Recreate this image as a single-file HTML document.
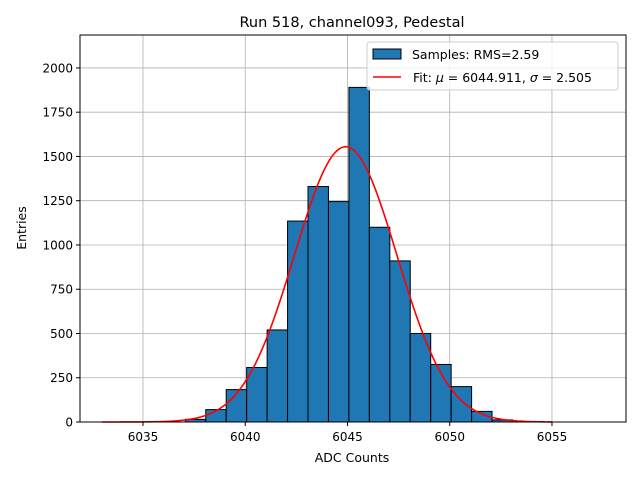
<!DOCTYPE html>
<html><head><meta charset="utf-8"><style>
body{margin:0;background:#fff;}
svg{display:block;font-family:"DejaVu Sans","Liberation Sans",sans-serif;}
</style></head><body>
<svg id="chart" width="640" height="480" viewBox="0 0 640 480">
<text x="352" y="27" font-size="14.5" text-anchor="middle">Run 518, channel093, Pedestal</text>
<g id="grid"></g>
<g id="bars"></g>
<path id="fit" fill="none" stroke="#ff0000" stroke-width="1.6"></path>
<rect x="80" y="35" width="546" height="387" fill="none" stroke="#000" stroke-width="1"></rect>
<g id="ticks"></g>
<text x="352" y="462" font-size="12.5" text-anchor="middle">ADC Counts</text>
<text x="26" y="228" font-size="12.5" text-anchor="middle" transform="rotate(-90 26 228)">Entries</text>
<g>
<rect x="367" y="42" width="251" height="48" rx="3" fill="#fff" fill-opacity="0.8" stroke="#ccc"></rect>
<rect x="373" y="49" width="28" height="10" fill="#1f77b4" stroke="#000"></rect>
<text x="412" y="59" font-size="12.5">Samples: RMS=2.59</text>
<line x1="373" y1="77" x2="401" y2="77" stroke="#f00" stroke-width="1.6"></line>
<text x="413" y="82" font-size="12.5">Fit: <tspan font-style="italic">μ</tspan> = 6044.911, <tspan font-style="italic">σ</tspan> = 2.505</text>
</g>
</svg>
<script>
const binLeft=[6037,6038,6039,6040,6041,6042,6043,6044,6045,6046,6047,6048,6049,6050,6051,6052];
const counts=[15,70,183,308,520,1135,1330,1245,1890,1100,910,500,325,200,60,12];
const xTicks=[6035,6040,6045,6050,6055];
const yTicks=[0,250,500,750,1000,1250,1500,1750,2000];
const fitMu=6044.911, fitSigma=2.505, fitAmp=1555;
const binWidth=1.0, binOffset=0.07;
const xMin=6031.92,xMax=6058.62,yMax=2186;
const X=v=>80+(v-xMin)/(xMax-xMin)*546;
const Y=v=>422-v/yMax*387;
const NS="http://www.w3.org/2000/svg";
function mk(tag,attrs,parent){const e=document.createElementNS(NS,tag);for(const k in attrs)e.setAttribute(k,attrs[k]);parent.appendChild(e);return e;}
const grid=document.getElementById('grid'),ticks=document.getElementById('ticks'),bars=document.getElementById('bars');
xTicks.forEach(t=>{
 const g=mk('line',{x1:X(t),x2:X(t),y1:35,y2:422,stroke:'#b0b0b0','stroke-width':0.8},grid);
 
 
 const tk=mk('line',{x1:X(t),x2:X(t),y1:422,y2:426,stroke:'#000'},ticks);
 
 
 const tx=mk('text',{x:X(t),y:441,'font-size':12,'text-anchor':'middle'},ticks);
 tx.textContent=t;
 
 
});
yTicks.forEach(t=>{
 const g=mk('line',{x1:80,x2:626,y1:Y(t),y2:Y(t),stroke:'#b0b0b0','stroke-width':0.8},grid);
 
 
 const tk=mk('line',{x1:76,x2:80,y1:Y(t),y2:Y(t),stroke:'#000'},ticks);
 
 
 const tx=mk('text',{x:73,y:Y(t)+4.5,'font-size':12,'text-anchor':'end'},ticks);
 tx.textContent=t;
 
 
});
binLeft.forEach((b,i)=>{
 const l=b+binOffset;
 const r=mk('rect',{x:X(l),y:Y(counts[i]),width:X(l+binWidth)-X(l),height:Y(0)-Y(counts[i]),fill:'#1f77b4',stroke:'#000','stroke-width':1},bars);
 
 
});
let d='';
for(let i=0;i<=220;i++){const x=6033+i*0.1;const y=fitAmp*Math.exp(-0.5*((x-fitMu)/fitSigma)**2);d+=(i?'L':'M')+X(x).toFixed(2)+','+Y(y).toFixed(2);}
document.getElementById('fit').setAttribute('d',d);
</script>
</body></html>
